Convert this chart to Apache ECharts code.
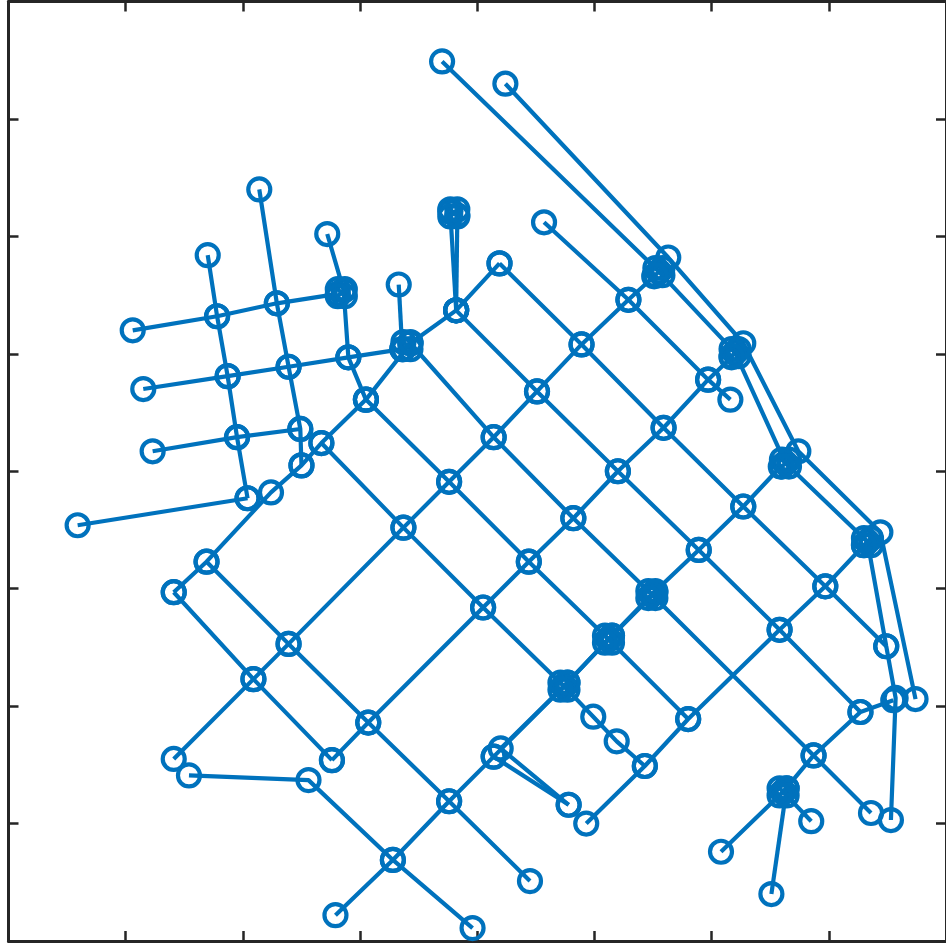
<!DOCTYPE html>
<html>
<head>
<meta charset="utf-8">
<script src="https://cdn.jsdelivr.net/npm/echarts@6/dist/echarts.min.js"></script>
<style>
  html, body { margin: 0; padding: 0; background: #ffffff; }
  #chart { width: 946px; height: 944px; }
</style>
</head>
<body>
<div id="chart"></div>
<script>
// Node chains of the mesh, each an ordered list of [x, y] points.
// Small tilted grid on the left: columns and rows.
const c1 = [[1.70,5.84],[1.78,5.32],[1.87,4.81],[1.95,4.29],[2.04,3.77]];
const c2 = [[2.14,6.40],[2.29,5.43],[2.39,4.89],[2.49,4.36],[2.50,4.05]];
const c3 = [[2.72,6.02],[2.86,5.54],[2.90,4.97],[3.05,4.61]];
const c4 = [[3.33,5.59],[3.36,5.04]];
const c5 = [[3.77,6.21],[3.82,5.37]];
const c5b = [[3.83,6.18],[3.82,5.37]];
const r1 = [[1.06,5.20],[1.78,5.32],[2.29,5.43],[2.81,5.51]];
const r2 = [[1.15,4.70],[1.87,4.81],[2.39,4.89],[2.90,4.97],[3.36,5.04]];
const r3 = [[1.23,4.17],[1.95,4.29],[2.49,4.36]];
const r4 = [[0.59,3.54],[2.04,3.77]];

// Diagonal mesh: chains rising to the right.
const ne1 = [[1.41,2.97],[1.69,3.23],[2.24,3.82],[2.50,4.05],[2.67,4.24],[3.05,4.61],[3.43,5.09],[3.82,5.37],[4.19,5.77]];
const ne2 = [[1.41,1.55],[2.09,2.23],[2.39,2.53],[3.37,3.52],[3.76,3.91],[4.14,4.29],[4.51,4.68],[4.89,5.08],[5.29,5.46],[5.51,5.66]];
const ne3 = [[2.76,1.54],[3.07,1.86],[4.05,2.84],[4.44,3.23],[4.82,3.60],[5.20,4.00],[5.59,4.37],[5.97,4.78],[6.17,4.97]];
const ne4 = [[2.79,0.22],[3.28,0.69],[3.76,1.19],[4.14,1.57],[4.74,2.17],[5.12,2.57],[5.49,2.95],[5.89,3.33],[6.27,3.70],[6.59,4.04]];
const ne4b = [[4.78,1.16],[4.20,1.64],[4.77,2.20],[5.15,2.60],[5.52,2.97]];
const ne5 = [[4.93,1.00],[5.43,1.49],[5.80,1.89],[6.58,2.65],[6.97,3.02],[7.30,3.37]];
const ne6 = [[6.08,0.76],[6.61,1.27],[6.87,1.58],[7.27,1.95],[7.55,2.05]];

// Diagonal mesh: chains falling to the right.
const seA = [[1.41,2.97],[2.09,2.23],[2.76,1.54]];
const seB = [[1.69,3.23],[2.39,2.53],[3.07,1.86],[3.76,1.19],[4.45,0.51]];
const seC = [[2.67,4.24],[3.37,3.52],[4.05,2.84],[4.74,2.17],[4.99,1.91],[5.19,1.70],[5.43,1.49]];
const seD = [[3.05,4.61],[3.76,3.91],[4.44,3.23],[5.12,2.57],[5.80,1.89]];
const seE = [[3.43,5.09],[4.14,4.29],[4.82,3.60],[5.49,2.95],[6.87,1.58],[7.36,1.09]];
const seF = [[3.82,5.37],[4.51,4.68],[5.20,4.00],[5.89,3.33],[6.58,2.65],[7.27,1.95]];
const seG = [[4.19,5.77],[4.89,5.08],[5.59,4.37],[6.27,3.70],[6.97,3.02],[7.49,2.51]];
const seH = [[4.57,6.12],[5.29,5.46],[5.97,4.78],[6.16,4.61]];
const seLow = [[1.54,1.41],[2.56,1.37],[3.28,0.69],[3.96,0.11]];

// Short spurs.
const spurA = [[4.14,1.57],[4.78,1.16]];
const spurB = [[6.64,1.30],[6.51,0.40]];
const spurC = [[6.61,1.27],[6.85,1.02]];

// Outer boundary chains along the upper right.
const outer1 = [[3.70,7.49],[5.55,5.70],[6.20,5.01],[6.63,4.07],[7.33,3.40],[7.49,2.51],[7.57,2.07],[7.53,1.03]];
const outer2 = [[4.24,7.30],[5.63,5.82],[6.27,5.09],[6.74,4.17],[7.44,3.48],[7.74,2.06]];

// Tight clusters of coincident nodes (joints where several chains meet).
const knot1 = [[2.81,5.55],[2.87,5.49],[2.87,5.55],[2.81,5.49]];
const knot2 = [[3.37,5.10],[3.43,5.04],[3.43,5.10],[3.37,5.04]];
const knot3 = [[3.77,6.23],[3.83,6.17],[3.83,6.23],[3.77,6.17]];
const knot4 = [[5.52,5.73],[5.58,5.67],[5.58,5.73],[5.52,5.67]];
const knot5 = [[6.17,5.04],[6.23,4.98],[6.23,5.04],[6.17,4.98]];
const knot6 = [[6.60,4.10],[6.66,4.04],[6.66,4.10],[6.60,4.04]];
const knot7 = [[7.30,3.43],[7.36,3.37],[7.36,3.43],[7.30,3.37]];
const knot8 = [[4.71,2.20],[4.77,2.14],[4.77,2.20],[4.71,2.14]];
const knot9 = [[5.09,2.60],[5.15,2.54],[5.15,2.60],[5.09,2.54]];
const knot10 = [[5.46,2.98],[5.52,2.92],[5.52,2.98],[5.46,2.92]];
const knot11 = [[6.58,1.30],[6.64,1.24],[6.64,1.30],[6.58,1.24]];

// Axis extent and tick spacing.
const axisMin = 0;
const axisMax = 8;
const tickStep = 1;

const chains = [
  c1, c2, c3, c4, c5, c5b, r1, r2, r3, r4,
  ne1, ne2, ne3, ne4, ne4b, ne5, ne6,
  seA, seB, seC, seD, seE, seF, seG, seH, seLow,
  spurA, spurB, spurC, outer1, outer2,
  knot1, knot2, knot3, knot4, knot5, knot6, knot7, knot8, knot9, knot10, knot11
];

const BLUE = '#0072BD';
const AXIS = '#262626';

function axisCfg(extra) {
  return Object.assign({
    type: 'value',
    min: axisMin,
    max: axisMax,
    interval: tickStep,
    axisLine: { show: true, onZero: false, lineStyle: { color: AXIS, width: 3 } },
    axisTick: { show: true, inside: true, length: 10, lineStyle: { color: AXIS, width: 2.5 } },
    axisLabel: { show: false },
    splitLine: { show: false }
  }, extra);
}

const chart = echarts.init(document.getElementById('chart'), null, { renderer: 'canvas' });
chart.setOption({
  animation: false,
  backgroundColor: '#ffffff',
  grid: { left: 8.5, top: 1.5, width: 938.5, height: 939.5, containLabel: false },
  xAxis: [axisCfg({ position: 'bottom' }), axisCfg({ position: 'top' })],
  yAxis: [axisCfg({ position: 'left' }), axisCfg({ position: 'right' })],
  series: chains.map(function (pts) {
    return {
      type: 'line',
      xAxisIndex: 0,
      yAxisIndex: 0,
      data: pts,
      clip: false,
      showAllSymbol: true,
      symbol: 'circle',
      symbolSize: 22,
      lineStyle: { color: BLUE, width: 4.2 },
      itemStyle: { color: 'rgba(0,0,0,0)', borderColor: BLUE, borderWidth: 4.2 },
      emphasis: { disabled: true }
    };
  })
});
</script>
</body>
</html>
